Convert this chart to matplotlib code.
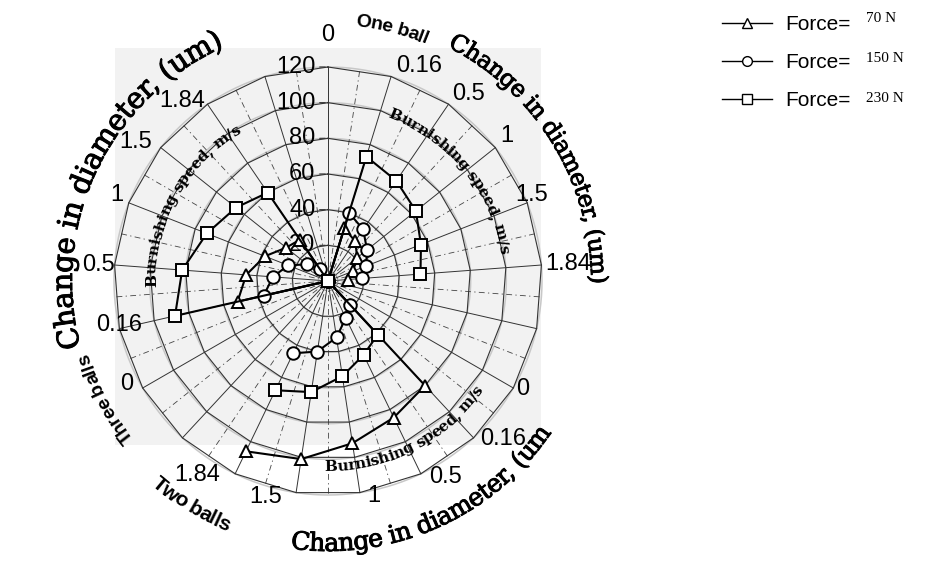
import numpy as np
import matplotlib
matplotlib.use("Agg")
import matplotlib.pyplot as plt
import matplotlib.patheffects as pe
from matplotlib.font_manager import FontProperties
from matplotlib.lines import Line2D
from matplotlib.patches import Rectangle

# categories: burnishing speed (m/s) repeated for one, two and three balls
speeds = ["0", "0.16", "0.5", "1", "1.5", "1.84"]
radial_ticks = [20, 40, 60, 80, 100, 120]
force_labels = ["70 N", "150 N", "230 N"]

# change in diameter (um), one list per group of balls
f70_one = [0, 31, 27, 21, 15, 11]
f70_two = [0, 80, 85, 92, 101, 106]
f70_three = [0, 52, 46, 38, 30, 28]

f150_one = [0, 40, 35, 28, 23, 19]
f150_two = [0, 18, 23, 32, 40, 45]
f150_three = [0, 37, 31, 24, 15, 8]

f230_one = [0, 73, 68, 63, 56, 52]
f230_two = [0, 41, 46, 54, 63, 68]
f230_three = [0, 88, 82, 73, 66, 60]

N_SPOKES = 21
theta = np.arange(N_SPOKES) * 2 * np.pi / N_SPOKES


def spoke_values(one, two, three):
    # blank spoke between the groups, the last spoke closes back to the centre
    return np.array(one + [np.nan] + two + [np.nan] + three + [0], dtype=float)


W, H, DPI = 944, 575, 100
fig = plt.figure(figsize=(W / DPI, H / DPI), dpi=DPI)
fig.patch.set_facecolor("white")

# grey scanned panel behind the chart
fig.patches.append(Rectangle((115 / W, 130 / H), 426 / W, 397 / H,
                             transform=fig.transFigure, facecolor="#f2f2f2",
                             edgecolor="none", zorder=-5))

# chart centre (image px) and radius of the 120 ring
CX, CY, R120 = 328, 281, 214
ax = fig.add_axes([(CX - R120) / W, (H - CY - R120) / H, 2 * R120 / W, 2 * R120 / H],
                  projection="polar")
ax.set_theta_zero_location("N")
ax.set_theta_direction(-1)
ax.set_ylim(0, 120)
ax.set_xticks([])
ax.set_yticks([])
ax.grid(False)
ax.spines["polar"].set_visible(False)
ax.patch.set_alpha(0)

full = np.linspace(0, 2 * np.pi, 361)
for v in radial_ticks:
    ax.plot(full, np.full_like(full, v), color="#c8c8c8", lw=1.1, zorder=1, clip_on=False)
mid = theta + np.pi / N_SPOKES
for t in mid:
    ax.plot([t, t], [0, 120], color="#444444", lw=0.6, ls=(0, (7, 4, 1.5, 4)), zorder=1, clip_on=False)

closed = np.append(theta, theta[0])
for v in radial_ticks:
    ax.plot(closed, np.full_like(closed, v), color="#333333", lw=0.8, zorder=2, clip_on=False)
for t in theta:
    ax.plot([t, t], [0, 120], color="#333333", lw=0.7, zorder=2, clip_on=False)

# radial value labels on the top spoke
for v in radial_ticks:
    ax.annotate(str(v), (0, v), xytext=(-9, 0), textcoords="offset points",
                ha="right", va="center", fontsize=17, family="Liberation Sans")
    ax.annotate("", (0, v), xytext=(-8, 0), textcoords="offset points",
                arrowprops=dict(arrowstyle="-", color="#333333", lw=0.8))

series = [
    (spoke_values(f70_one, f70_two, f70_three), "^"),
    (spoke_values(f150_one, f150_two, f150_three), "o"),
    (spoke_values(f230_one, f230_two, f230_three), "s"),
]
for vals, mk in series:
    ax.plot(theta, vals, color="black", lw=1.5, marker=mk, markersize=9,
            markerfacecolor="white", markeredgecolor="black", markeredgewidth=1.4,
            zorder=5, clip_on=False)

# speed labels round the outside
label_angles = [0, 23, 37, 51, 67, 86, 119, 132, 149, 168, 196, 214, 243, 258, 274, 292, 306, 321]
label_radii = [138, 131, 131, 129, 124, 135, 125, 132, 128, 123, 126, 131, 127, 120, 129, 128, 133, 130]
for i, (a, rr) in enumerate(zip(label_angles, label_radii)):
    ax.text(np.radians(a), rr, speeds[i % 6], ha="center", va="center",
            fontsize=17, family="Liberation Sans", clip_on=False)

# overlay in image pixel coordinates for the curved captions
ov = fig.add_axes([0, 0, 1, 1], zorder=5)
ov.set_xlim(0, W)
ov.set_ylim(H, 0)
ov.axis("off")
ov.patch.set_alpha(0)
renderer = fig.canvas.get_renderer()


def arc_text(s, r, start, clockwise=True, size=12, family="DejaVu Serif",
             weight="normal", style="normal", track=0.0, heavy=0.0, cx=CX, cy=CY):
    prop = FontProperties(family=family, size=size, weight=weight, style=style)
    effects = [pe.withStroke(linewidth=heavy, foreground="black")] if heavy else None

    def width(t):
        return renderer.get_text_width_height_descent(t, prop, ismath=False)[0] if t.strip() else 0.0

    sign = 1 if clockwise else -1
    for i, ch in enumerate(s):
        if ch == " ":
            continue
        w = width(ch)
        centre = width(s[:i + 1]) - w / 2 + track * i
        phi = np.radians(start) + sign * centre / r
        x = cx + r * np.sin(phi)
        y = cy - r * np.cos(phi)
        rot = -np.degrees(phi) if clockwise else 180 - np.degrees(phi)
        ov.text(x, y, ch, rotation=rot, rotation_mode="anchor", ha="center",
                va="baseline", fontproperties=prop, path_effects=effects)


title = "Change in diameter, (um)"
arc_text(title, 263, 27, True, size=17, track=-0.6, heavy=0.7)
arc_text(title, 256, 255, True, size=21, track=-0.6, heavy=0.7)
arc_text(title[:-1], 270, 188, False, size=18, track=-0.6, heavy=0.7)

burn = "Burnishing speed, m/s"
arc_text(burn, 174, 20, True, size=11, weight="bold", track=-0.3)
arc_text(burn, 172, 268, True, size=11, weight="bold", track=-0.3)
arc_text(burn, 190, 181, False, size=11, weight="bold", track=-0.3)

arc_text("One ball", 256, 6, True, size=14, family="Liberation Sans", weight="bold",
         track=-0.5)
arc_text("Two balls", 270, 221, False, size=15, family="Liberation Sans", weight="bold",
         track=-0.5)
arc_text("Three balls", 250, 231, True, size=14, family="Liberation Sans", weight="bold",
         track=-0.5)

# legend
handles = [Line2D([], [], color="black", lw=1.0, marker=m, markersize=7,
                  markerfacecolor="white", markeredgecolor="black")
           for m in ["^", "o", "s"]]
fig.legend(handles, ["Force="] * 3, loc="upper left", bbox_to_anchor=(712 / W, 1 - 5 / H),
           frameon=False, prop=FontProperties(family="Liberation Sans", size=15),
           handlelength=2.4, handletextpad=0.6, labelspacing=0.9, borderpad=0)
for i, lab in enumerate(force_labels):
    ov.text(866, 19 + 40 * i, lab, ha="left", va="center", fontsize=11,
            family="Liberation Serif")

fig.savefig("out.png", dpi=DPI)
